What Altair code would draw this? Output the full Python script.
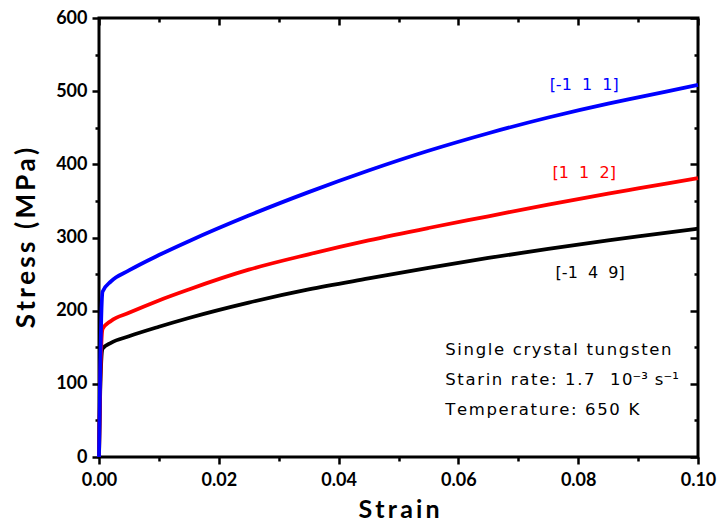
import altair as alt
import pandas as pd

# Tensile stress-strain curves of single crystal tungsten at 650 K
strain = [0.0, 0.0002, 0.0006, 0.002, 0.005, 0.01, 0.015, 0.025, 0.035,
          0.045, 0.055, 0.065, 0.075, 0.085, 0.09, 0.1]
stress_111 = [0, 120, 226, 240, 255, 276, 295, 330, 362, 391.5, 418.5, 442.5, 464, 483, 491.5, 508.5]
stress_112 = [0, 100, 175, 186, 197, 214, 229, 256, 277, 296, 313, 329, 345, 360, 367, 381]
stress_149 = [0, 90, 148, 156, 165, 178, 190, 211, 229, 244, 258.5, 272, 284.5, 296, 301.5, 312]

NB = "\u00a0"
series_names = [f"[-1{NB} 4{NB} 9]", f"[1{NB} 1{NB} 2]", f"[-1{NB} 1{NB} 1]"]
series_colors = ["#000000", "#ff0000", "#0000ff"]

# label anchors (strain, stress) for each orientation
label_strain = [0.082, 0.081, 0.081]
label_stress = [251, 388, 508]

HS = "\u200a"
note_lines = [
    HS.join("Single crystal tungsten"),
    HS.join(f"Starin rate: 1.7{NB} 10") + "\u207b\u00b3" + HS + " s\u207b\u00b9",
    HS.join("Temperature: 650 K"),
]
note_strain = [0.0578, 0.0578, 0.0578]
note_stress = [146, 105, 64]

x_major = [0.0, 0.02, 0.04, 0.06, 0.08, 0.10]
x_minor = [0.01, 0.03, 0.05, 0.07, 0.09]
y_major = [0, 100, 200, 300, 400, 500, 600]
y_minor = [50, 150, 250, 350, 450, 550]

# axis titles, letter-spaced with thin spaces
TS = "\u2009"
x_title = TS.join("Strain")
y_title = TS.join("Stress") + NB + NB + TS.join("(MPa)")

rows = []
for name, vals in zip(series_names, [stress_149, stress_112, stress_111]):
    for s, v in zip(strain, vals):
        rows.append({"strain": s, "stress": v, "series": name})
df = pd.DataFrame(rows)

labels_df = pd.DataFrame({"strain": label_strain, "stress": label_stress, "series": series_names})
notes_df = pd.DataFrame({"strain": note_strain, "stress": note_stress, "text": note_lines})

FONT = "Lato"
TEXT_FONT = "DejaVu Sans"
xs = alt.Scale(domain=[0, 0.1], nice=False, zero=False)
ys = alt.Scale(domain=[0, 600], nice=False)
color = alt.Color("series:N", scale=alt.Scale(domain=series_names, range=series_colors), legend=None)


def blank_axis(orient, values, size, offset=0):
    return alt.Axis(orient=orient, values=values, labels=False, title=None, domain=False,
                    grid=False, tickSize=size, tickWidth=2.5, tickColor="black", offset=offset)


base = alt.Chart(df)

curves = base.mark_line(strokeWidth=3.8, interpolate="monotone").encode(
    x=alt.X("strain:Q", scale=xs, axis=alt.Axis(
        orient="bottom", values=x_major, format=".2f", title=x_title, grid=False, domain=False,
        tickSize=7, tickWidth=2.5, tickColor="black", labelFont=FONT, labelFontSize=18,
        labelFontWeight="bold", labelColor="black", labelPadding=7, labelFlush=False,
        titleFont=FONT, titleFontSize=25, titleFontWeight="bold", titleColor="black",
        titlePadding=8)),
    y=alt.Y("stress:Q", scale=ys, axis=alt.Axis(
        orient="left", values=y_major, title=y_title, grid=False, domain=False,
        tickSize=7, tickWidth=2.5, tickColor="black", labelFont=FONT, labelFontSize=18,
        labelFontWeight="bold", labelColor="black", labelPadding=5, labelFlush=False,
        titleFont=FONT, titleFontSize=26, titleFontWeight="bold", titleColor="black",
        titlePadding=16)),
    color=color,
    order=alt.Order("strain:Q"),
)

minor_out = base.mark_line(opacity=0).encode(
    x=alt.X("strain:Q", scale=xs, axis=blank_axis("bottom", x_minor, 4)),
    y=alt.Y("stress:Q", scale=ys, axis=blank_axis("left", y_minor, 4)),
    detail="series:N",
)

major_in = base.mark_line(opacity=0).encode(
    x=alt.X("strain:Q", scale=xs, axis=blank_axis("top", x_major, 7, -7)),
    y=alt.Y("stress:Q", scale=ys, axis=blank_axis("right", y_major, 8, -8)),
    detail="series:N",
)

minor_in = base.mark_line(opacity=0).encode(
    x=alt.X("strain:Q", scale=xs, axis=blank_axis("top", x_minor, 4, -4)),
    y=alt.Y("stress:Q", scale=ys, axis=blank_axis("right", y_minor, 4, -4)),
    detail="series:N",
)

curve_labels = alt.Chart(labels_df).mark_text(font=TEXT_FONT, fontSize=16, align="center",
                                              baseline="middle").encode(
    x=alt.X("strain:Q", scale=xs, axis=None),
    y=alt.Y("stress:Q", scale=ys, axis=None),
    text="series:N",
    color=color,
)

notes = alt.Chart(notes_df).mark_text(font=TEXT_FONT, fontSize=16.5, align="left", baseline="middle",
                                      color="black").encode(
    x=alt.X("strain:Q", scale=xs, axis=None),
    y=alt.Y("stress:Q", scale=ys, axis=None),
    text="text:N",
)

chart = alt.layer(curves, minor_out, major_in, minor_in, curve_labels, notes).resolve_axis(
    x="independent", y="independent"
).properties(
    width=599, height=439,
    autosize=alt.AutoSizeParams(type="none"),
    padding={"left": 99, "top": 18, "right": 22, "bottom": 68},
    background="white",
).configure_view(stroke="black", strokeWidth=3)

chart.save("out.html", embed_options={"renderer": "svg", "actions": False})
